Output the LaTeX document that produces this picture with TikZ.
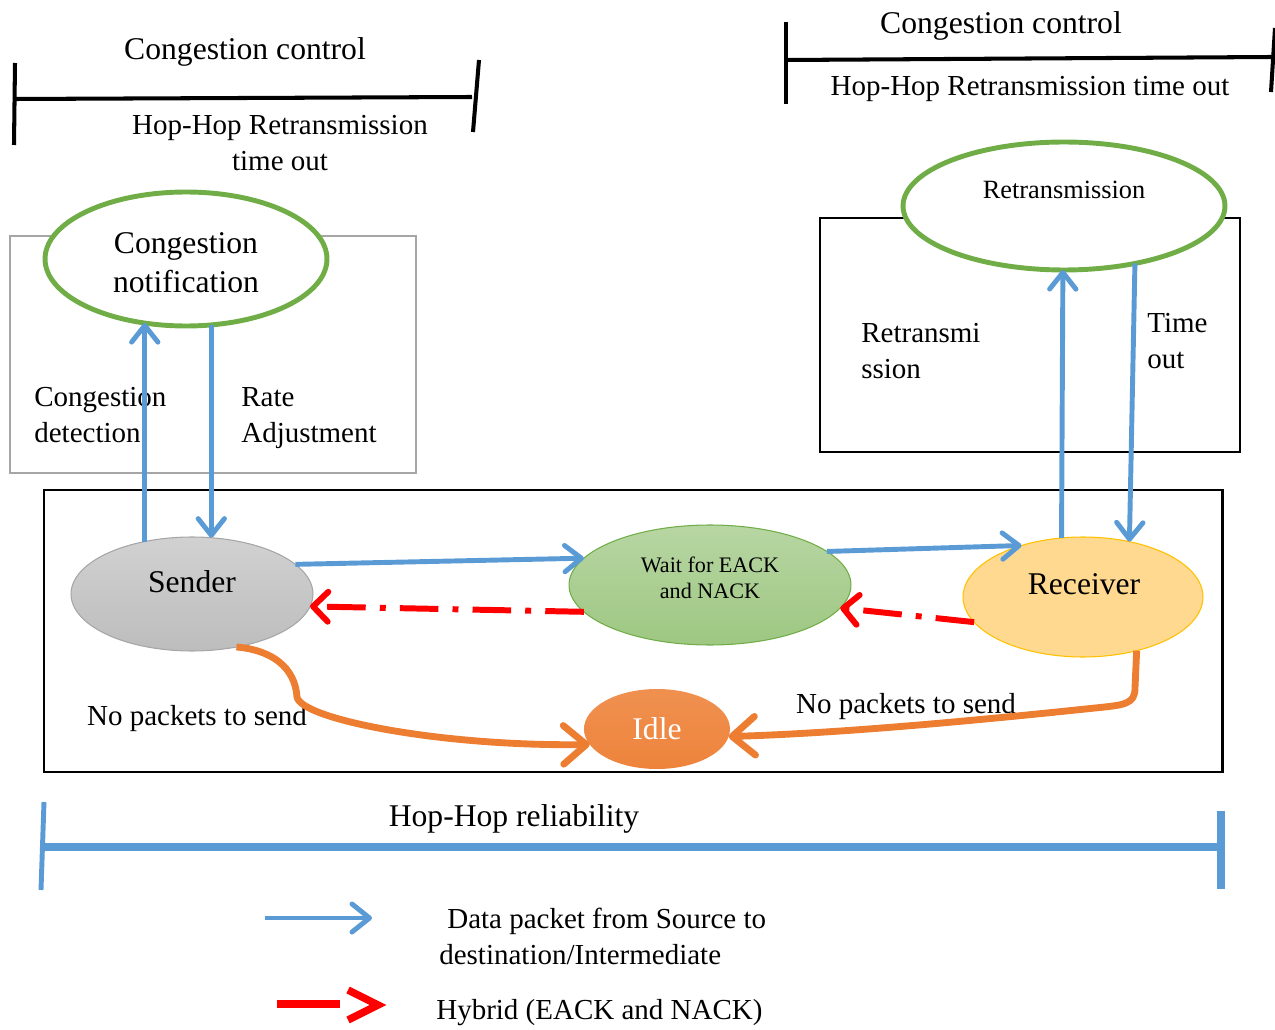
\documentclass[tikz,border=0pt]{standalone}
\usepackage{fontspec}
\setmainfont{Liberation Serif}
\usetikzlibrary{arrows.meta,shapes.geometric}
\definecolor{flowblue}{HTML}{5B9BD5}
\definecolor{ringgreen}{HTML}{70AD47}
\definecolor{idleorange}{HTML}{ED7D31}
\definecolor{boxgray}{HTML}{A6A6A6}
\definecolor{rcvstroke}{HTML}{FFC000}
\definecolor{rcvfill}{HTML}{FFD98F}
\begin{document}
\begin{tikzpicture}[x=0.02cm,y=-0.02cm,
  lbl/.style={inner sep=0pt, font=\fontsize{16.5}{20.5}\selectfont, align=left},
  lblc/.style={lbl, align=center},
  title/.style={inner sep=0pt, font=\fontsize{18}{22}\selectfont, align=center},
  oneline/.style={yshift=-2pt},
  state/.style={ellipse, inner sep=0pt, outer sep=0pt},
  ring/.style={state, draw=ringgreen, line width=2.8pt, fill=white},
  bracket/.style={line width=2.3pt, black},
  bluearrow/.style={flowblue, line width=2.8pt, -{Straight Barb[length=9.5pt,width=15pt,round]}},
  redarrow/.style={red, line width=3.4pt, dash pattern=on 22pt off 8pt on 3.4pt off 8pt,
    -{Straight Barb[length=8.5pt,width=17pt,round]}},
  orangearrow/.style={idleorange, line width=3.9pt, -{Straight Barb[length=13pt,width=22pt,round]}}
]
\useasboundingbox (0,0) rectangle (1275,1030);

% ---- congestion control bracket (left)
\draw[bracket] (15,63) -- (14,145);
\draw[bracket] (15,99) -- (472,97);
\draw[bracket] (479,60) -- (473,132);
\node[title, oneline] (cc1) at (245,48) {Congestion control};
\node[lblc] (hr1) at (280,143) {Hop-Hop Retransmission\\time out};

% ---- congestion control bracket (right)
\draw[bracket] (786,22) -- (786,104);
\draw[bracket] (786,60) -- (1272,57);
\draw[bracket] (1275,28) -- (1271,92);
\node[title, oneline] (cc2) at (1001,22) {Congestion control};
\node[lbl, oneline] (hr2) at (1030,85) {Hop-Hop Retransmission time out};

% ---- congestion box
\draw[boxgray, line width=1.2pt] (10,236) rectangle (416,473);
\node[ring, minimum width=5.64cm, minimum height=2.68cm] (cn) at (186,259) {};
\node[title] (cnt) at (186,263) {Congestion\\notification};
\node[lbl, anchor=west] (cd) at (34,415) {Congestion\\detection};
\node[lbl, anchor=west, yshift=-1.7pt] (ra) at (241,415) {Rate\\Adjustment};

% ---- retransmission box
\draw[black, line width=1.4pt] (820,218) rectangle (1240,452);
\node[ring, minimum width=6.44cm, minimum height=2.56cm] (rt) at (1064,206) {};
\node[inner sep=0pt, font=\fontsize{15}{18}\selectfont] (rtt) at (1064,190) {Retransmission};
\node[lbl, anchor=west] (rs) at (861,351) {Retransmi\\ssion};
\node[lbl, anchor=west] (to) at (1147,341) {Time\\out};

% ---- hop-hop reliability frame and states
\draw[black, line width=1.7pt] (44,490) rectangle (1222,772);

\node[state, draw=boxgray, line width=0.6pt, top color=black!18, bottom color=black!26,
  minimum width=4.84cm, minimum height=2.28cm] (s) at (192,594) {};
\node[title] (st) at (192,582) {Sender};

\node[state, draw=ringgreen, line width=0.6pt, top color=ringgreen!50, bottom color=ringgreen!68,
  minimum width=5.64cm, minimum height=2.4cm] (w) at (710,585) {};
\node[inner sep=0pt, font=\fontsize{12.6}{14.8}\selectfont, align=center] (wt) at (710,578) {Wait for EACK\\and NACK};

\node[state, draw=rcvstroke, line width=0.6pt, fill=rcvfill,
  minimum width=4.8cm, minimum height=2.4cm] (rc) at (1083,597) {};
\node[title] (rct) at (1084,584) {Receiver};

\node[state, draw=none, top color=idleorange!85, bottom color=idleorange!100!black!95,
  minimum width=2.92cm, minimum height=1.6cm, text=white,
  font=\fontsize{18}{22}\selectfont] (i) at (657,729) {Idle};

\node[lbl, oneline] (np1) at (197,715) {No packets to send};
\node[lbl, oneline] (np2) at (906,703) {No packets to send};

% ---- congestion control loop
\draw[bluearrow] (s.132) -- (s.132 |- cn.237);
\draw[bluearrow] (cn.291) -- (cn.291 |- s.71);

% ---- retransmission loop
\draw[bluearrow] (rc.110) -- (rt.269);
\draw[bluearrow] (rt.321) -- (rc.50);

% ---- data flow
\draw[bluearrow] (s.16) -- (w.168);
\draw[bluearrow] (w.16) -- (rc.140);

% ---- acknowledgements
\draw[redarrow] (w.192) -- (s.-6);
\draw[redarrow] (rc.193) -- (w.-10);

% ---- idle transitions
\draw[orangearrow] (s.-50) .. controls +(35,3) and +(-2,-30) .. (297,697)
  .. controls +(4,22) and +(-150,2) .. (i.193);
\draw[orangearrow] (rc.-45) -- (1135,688) .. controls +(0,16) and +(30,-3) .. (1095,708)
  .. controls (1000,718) and (850,733) .. (i.-6);

% ---- hop-hop reliability bracket
\draw[flowblue, line width=2.8pt] (44,802) -- (41,890);
\draw[flowblue, line width=4.5pt] (44,847) -- (1220,847);
\draw[flowblue, line width=5pt] (1221,811) -- (1221,889);
\node[title, oneline] (hr) at (514,815) {Hop-Hop reliability};

% ---- legend
\coordinate (lgba) at (265,918);
\coordinate (lgbb) at (372,918);
\draw[flowblue, line width=2.8pt, -{Straight Barb[length=10pt,width=16pt,round]}] (lgba) -- (lgbb);
\node[lbl, oneline, anchor=west] (lgbt1) at (447,918) {Data packet from Source to};
\node[lbl, anchor=west] (lgbt2) at (439,955) {destination/Intermediate};

\coordinate (lgra) at (277,1004);
\coordinate (lgrb) at (340,1004);
\coordinate (lgrc) at (378,1005);
\draw[red, line width=4.5pt] (lgra) -- (lgrb);
\draw[red, line width=4.3pt, line join=miter] (lgrc) ++(-30,-15) -- (lgrc) -- ++(-30,15);
\node[lbl, anchor=west] (lgrt) at (436,1013) {Hybrid (EACK and NACK)};
\end{tikzpicture}
\end{document}
